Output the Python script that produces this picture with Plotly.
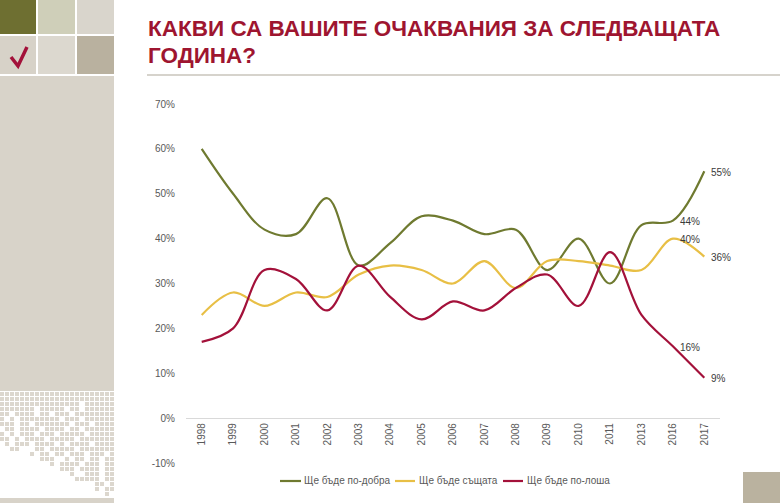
import plotly.graph_objects as go

years = ["1998", "1999", "2000", "2001", "2002", "2003", "2004", "2005", "2006",
         "2007", "2008", "2009", "2010", "2011", "2013", "2016", "2017"]
better = [60, 50, 42, 41, 49, 34, 39, 45, 44, 41, 42, 33, 40, 30, 43, 44, 55]
same = [23, 28, 25, 28, 27, 32, 34, 33, 30, 35, 29, 35, 35, 34, 33, 40, 36]
worse = [17, 20, 33, 31, 24, 34, 27, 22, 26, 24, 29, 32, 25, 37, 23, 16, 9]
series_names = ["Ще бъде по-добра", "Ще бъде същата", "Ще бъде по-лоша"]
series_colors = ["#6f7a30", "#e8bf45", "#a3113a"]
title_lines = ["КАКВИ СА ВАШИТЕ ОЧАКВАНИЯ ЗА СЛЕДВАЩАТА", "ГОДИНА?"]
y_ticks = [-10, 0, 10, 20, 30, 40, 50, 60, 70]
y_tick_text = [f"{v}%" for v in y_ticks]

W, H = 780, 503
ML, MR, MT, MB = 186, 60, 104, 40
PW, PH = W - ML - MR, H - MT - MB


def px(x):
    return (x - ML) / PW


def py(y):
    return (H - MB - y) / PH


fig = go.Figure()
annotations = []
for name, vals, col in zip(series_names, [better, same, worse], series_colors):
    fig.add_trace(go.Scatter(
        x=years, y=vals, name=name, mode="lines", showlegend=False,
        line=dict(color=col, width=2.2, shape="spline", smoothing=1.0),
        cliponaxis=False, hoverinfo="skip",
    ))
    for i in (len(vals) - 2, len(vals) - 1):
        annotations.append(dict(
            x=i, y=vals[i], xref="x", yref="y", text=f"{vals[i]}%",
            xanchor="left", yanchor="middle", xshift=5, yshift=-1, showarrow=False,
            font=dict(size=10, color="#3a3a3a", family="Liberation Sans")))

shapes = []


def rect(x0, y0, x1, y1, color):
    shapes.append(dict(type="rect", xref="paper", yref="paper",
                       x0=px(x0), x1=px(x1), y0=py(y1), y1=py(y0),
                       fillcolor=color, line=dict(width=0), layer="below"))


# top-left squares
rect(0, 0, 36, 34, "#6e6f31")
rect(38, 0, 75, 34, "#cfcfb9")
rect(77, 0, 114, 34, "#d9d5cc")
rect(0, 36, 36, 74, "#d7d2c8")
rect(38, 36, 75, 74, "#dcd8cf")
rect(77, 36, 114, 74, "#b9b19f")
# panel
rect(0, 76, 114, 391, "#d8d3c9")
rect(0, 498, 114, 503, "#d8d3c9")
# bottom-right square
rect(743, 472, 780, 503, "#bab29f")

pattern = [
    "#######################",
    "#######################",
    "################.######",
    "#######.#####.##.######",
    "##.####.##.###.########",
    "#.#.########.###.######",
    "###.##.#######.###.####",
    ".##.####.####.##.######",
    "#.#.###.###.#####.#####",
    "##.#.####.#####.#######",
    ".#.###.####.#.####.####",
    "..##...##.#####.#######",
    "......#.##.##.###.###.#",
    "........###..#.##.##.##",
    "..........#.####.###.##",
    "............###.####.##",
    "..............#..###.##",
    "...............#####.##",
    "...................##.#",
    "...................#.##",
    ".....................#.",
]
for r, row in enumerate(pattern):
    for c, ch in enumerate(row):
        if ch == "#":
            x0 = c * 5
            y0 = 392 + r * 5
            rect(x0, y0, x0 + 4, y0 + 4, "#dcd7ce")

# checkmark
shapes.append(dict(type="path", xref="paper", yref="paper",
                   path=f"M {px(11)},{py(57)} L {px(18)},{py(66)} L {px(27)},{py(47)}",
                   line=dict(color="#a3113a", width=3.5)))
# title rule
shapes.append(dict(type="line", xref="paper", yref="paper",
                   x0=px(147), x1=px(780), y0=py(75), y1=py(75),
                   line=dict(color="#d6d3cc", width=2)))

# legend (manual)
leg_line_x = [(280, 301), (395, 415), (503, 523)]
leg_text_x = [302, 417, 525]
for name, col, (lx0, lx1), tx in zip(series_names, series_colors, leg_line_x, leg_text_x):
    shapes.append(dict(type="line", xref="paper", yref="paper",
                       x0=px(lx0), x1=px(lx1), y0=py(481), y1=py(481),
                       line=dict(color=col, width=2.2)))
    annotations.append(dict(text=name, xref="paper", yref="paper", x=px(tx), y=py(481),
                            xanchor="left", yanchor="middle", showarrow=False,
                            font=dict(size=10, color="#595959", family="Liberation Sans")))

for t, yy in zip(title_lines, [28, 55]):
    annotations.append(dict(text="<b>" + t + "</b>", xref="paper", yref="paper",
                            x=px(146), y=py(yy), xanchor="left", yanchor="middle",
                            showarrow=False,
                            font=dict(size=22.5, color="#9e1530", family="Liberation Sans")))

fig.update_layout(
    width=W, height=H, autosize=False,
    margin=dict(l=ML, r=MR, t=MT, b=MB, pad=0),
    paper_bgcolor="white", plot_bgcolor="white",
    font=dict(family="Liberation Sans", size=10, color="#595959"),
    shapes=shapes, annotations=annotations,
    showlegend=False,
    xaxis=dict(type="category", range=[-0.5, 16.5], anchor="free", position=0.125,
               showline=True, linecolor="#d9d9d9", linewidth=1, ticks="",
               tickangle=-90, showgrid=False, zeroline=False,
               tickfont=dict(size=10, color="#595959")),
    yaxis=dict(range=[-10, 70], tickmode="array", tickvals=y_ticks, ticktext=y_tick_text,
               showgrid=False, zeroline=False, showline=False, ticks="",
               ticklabelstandoff=10, tickfont=dict(size=10, color="#595959")),
)

fig.write_html("out.html")
